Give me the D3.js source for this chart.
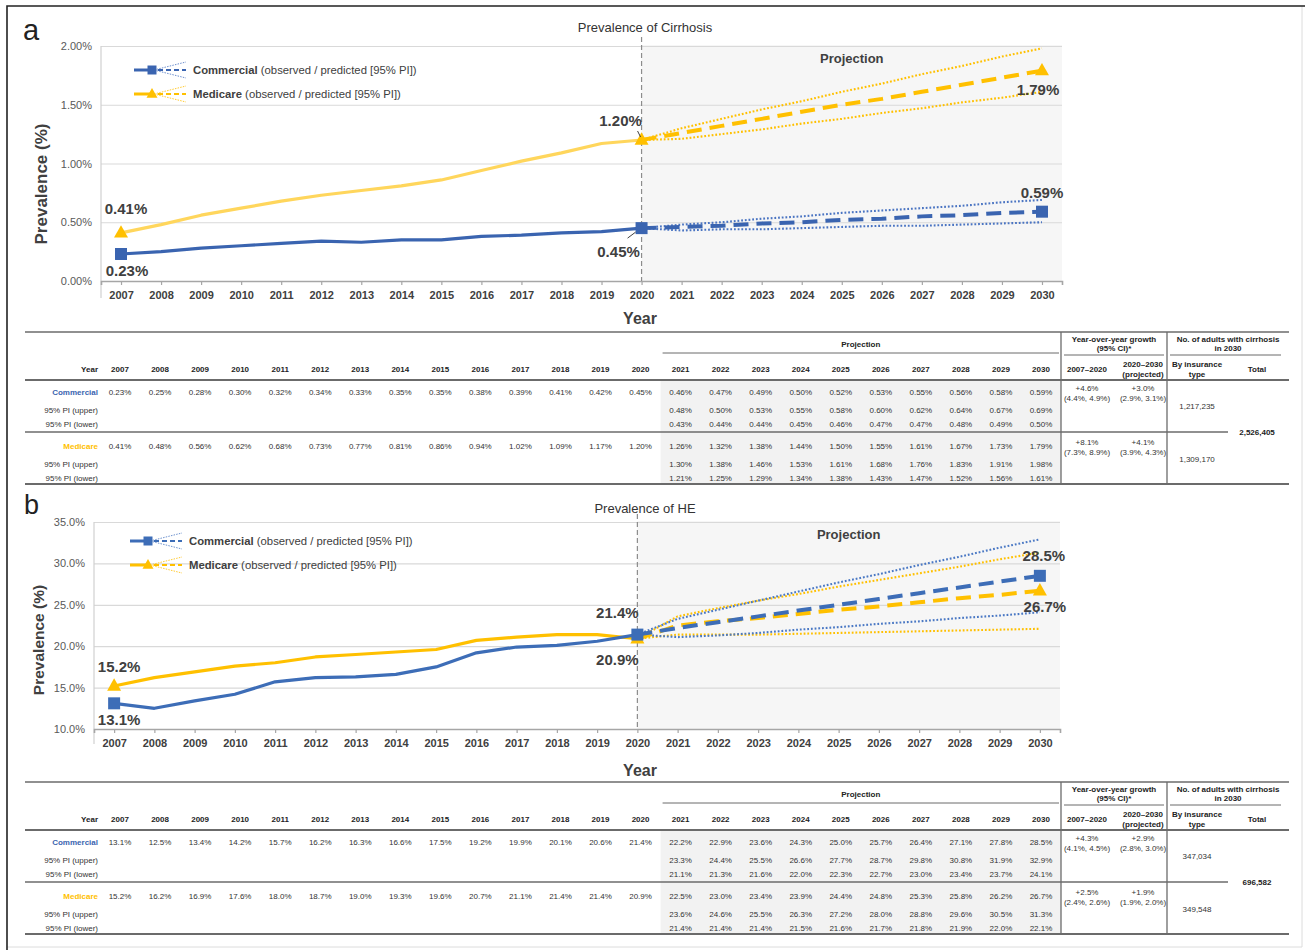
<!DOCTYPE html>
<html>
<head>
<meta charset="utf-8">
<script src="https://cdn.jsdelivr.net/npm/d3@7"></script>
<style>
  body { margin: 0; background: #fff; }
  svg { display: block; }
  text { font-family: "Liberation Sans", Arial, sans-serif; }
</style>
</head>
<body>
<svg id="fig" width="1305" height="950"></svg>
<script>
// ---- categories ----
const years = [2007, 2008, 2009, 2010, 2011, 2012, 2013, 2014, 2015, 2016, 2017, 2018,
               2019, 2020, 2021, 2022, 2023, 2024, 2025, 2026, 2027, 2028, 2029, 2030];
const observedYears = years.slice(0, 14);   // 2007–2020
const projectedYears = years.slice(14);     // 2021–2030

// ---- cirrhosis prevalence (%) ----
const cirrCommObs   = [0.23, 0.25, 0.28, 0.30, 0.32, 0.34, 0.33, 0.35, 0.35, 0.38, 0.39, 0.41, 0.42, 0.45];
const cirrCommProj  = [0.46, 0.47, 0.49, 0.50, 0.52, 0.53, 0.55, 0.56, 0.58, 0.59];
const cirrCommUpper = [0.48, 0.50, 0.53, 0.55, 0.58, 0.60, 0.62, 0.64, 0.67, 0.69];
const cirrCommLower = [0.43, 0.44, 0.44, 0.45, 0.46, 0.47, 0.47, 0.48, 0.49, 0.50];
const cirrMedObs    = [0.41, 0.48, 0.56, 0.62, 0.68, 0.73, 0.77, 0.81, 0.86, 0.94, 1.02, 1.09, 1.17, 1.20];
const cirrMedProj   = [1.26, 1.32, 1.38, 1.44, 1.50, 1.55, 1.61, 1.67, 1.73, 1.79];
const cirrMedUpper  = [1.30, 1.38, 1.46, 1.53, 1.61, 1.68, 1.76, 1.83, 1.91, 1.98];
const cirrMedLower  = [1.21, 1.25, 1.29, 1.34, 1.38, 1.43, 1.47, 1.52, 1.56, 1.61];
const cirrTicks     = [0, 0.5, 1.0, 1.5, 2.0];

// ---- hepatic encephalopathy prevalence (%) ----
const heCommObs   = [13.1, 12.5, 13.4, 14.2, 15.7, 16.2, 16.3, 16.6, 17.5, 19.2, 19.9, 20.1, 20.6, 21.4];
const heCommProj  = [22.2, 22.9, 23.6, 24.3, 25.0, 25.7, 26.4, 27.1, 27.8, 28.5];
const heCommUpper = [23.3, 24.4, 25.5, 26.6, 27.7, 28.7, 29.8, 30.8, 31.9, 32.9];
const heCommLower = [21.1, 21.3, 21.6, 22.0, 22.3, 22.7, 23.0, 23.4, 23.7, 24.1];
const heMedObs    = [15.2, 16.2, 16.9, 17.6, 18.0, 18.7, 19.0, 19.3, 19.6, 20.7, 21.1, 21.4, 21.4, 20.9];
const heMedProj   = [22.5, 23.0, 23.4, 23.9, 24.4, 24.8, 25.3, 25.8, 26.2, 26.7];
const heMedUpper  = [23.6, 24.6, 25.5, 26.3, 27.2, 28.0, 28.8, 29.6, 30.5, 31.3];
const heMedLower  = [21.4, 21.4, 21.4, 21.5, 21.6, 21.7, 21.8, 21.9, 22.0, 22.1];
const heTicks     = [10, 15, 20, 25, 30, 35];

// ---- growth and 2030 counts ----
const cirrCommGrowth = ["+4.6%", "(4.4%, 4.9%)", "+3.0%", "(2.9%, 3.1%)"];
const cirrMedGrowth  = ["+8.1%", "(7.3%, 8.9%)", "+4.1%", "(3.9%, 4.3%)"];
const cirrCounts     = ["1,217,235", "1,309,170", "2,526,405"];
const heCommGrowth   = ["+4.3%", "(4.1%, 4.5%)", "+2.9%", "(2.8%, 3.0%)"];
const heMedGrowth    = ["+2.5%", "(2.4%, 2.6%)", "+1.9%", "(1.9%, 2.0%)"];
const heCounts       = ["347,034", "349,548", "696,582"];

const BLUE = "#3a64b0", YELLOW = "#ffc000";
const svg = d3.select("#fig");
svg.append("rect").attr("width", 1305).attr("height", 950).attr("fill", "#fff");

// figure frame
svg.append("path").attr("d", "M1302,6 V947 H7").attr("fill", "none").attr("stroke", "#dcdcdc").attr("stroke-width", 1);
svg.append("path").attr("d", "M7,950 V6 H1305").attr("fill", "none").attr("stroke", "#222").attr("stroke-width", 1.6);

function txt(g, x, y, s, o = {}) {
  return g.append("text").attr("x", x).attr("y", y)
    .attr("text-anchor", o.anchor || "middle")
    .attr("dominant-baseline", "central")
    .attr("font-size", o.size || 8)
    .attr("font-weight", o.weight || "normal")
    .attr("fill", o.fill || "#333")
    .text(s);
}

function markerPath(shape, cx, cy, s) {
  if (shape === "square") return `M${cx - s / 2},${cy - s / 2}h${s}v${s}h${-s}Z`;
  const h = s * 0.88;
  return `M${cx},${cy - h * 0.62}L${cx + s / 2},${cy + h * 0.38}L${cx - s / 2},${cy + h * 0.38}Z`;
}

function drawPanel(p) {
  const g = svg.append("g");
  const x = d3.scalePoint().domain(years).range([p.x0, p.x1]).padding(0.5);
  const y = d3.scaleLinear().domain(p.yDomain).range([p.bottom, p.top]);
  const xs = x(2020);

  // projection period background
  g.append("rect").attr("x", xs).attr("y", p.top - 1).attr("width", p.x1 - xs)
    .attr("height", p.bottom - p.top + 1).attr("fill", "#f6f6f6");

  // y axis with gridlines
  const ya = g.append("g").attr("transform", `translate(${p.x0},0)`)
    .call(d3.axisLeft(y).tickValues(p.yTicks).tickFormat(p.tickFmt)
      .tickSize(-(p.x1 - p.x0)).tickPadding(9));
  ya.select(".domain").remove();
  ya.selectAll(".tick line").attr("stroke", "#d9d9d9").attr("stroke-width", 1.2);
  ya.selectAll(".tick text").attr("font-size", 11).attr("fill", "#595959")
    .style("font-family", '"Liberation Sans", Arial, sans-serif');
  g.append("line").attr("x1", p.x0).attr("x2", p.x0).attr("y1", p.top).attr("y2", p.axisFoot)
    .attr("stroke", "#d0d0d0").attr("stroke-width", 1.2);

  // x axis
  const xa = g.append("g").attr("transform", `translate(0,${p.bottom})`)
    .call(d3.axisBottom(x).tickSize(4).tickSizeOuter(4).tickPadding(6));
  xa.select(".domain").attr("stroke", "#a6a6a6").attr("stroke-width", 1.6);
  xa.selectAll(".tick line").attr("stroke", "#a6a6a6").attr("stroke-width", 1.2);
  xa.selectAll(".tick text").attr("font-size", 11).attr("font-weight", "bold").attr("fill", "#404040")
    .style("font-family", '"Liberation Sans", Arial, sans-serif');

  // observed / projected divider
  g.append("line").attr("x1", xs).attr("x2", xs).attr("y1", p.top - p.divExt).attr("y2", p.bottom)
    .attr("stroke", "#8c8c8c").attr("stroke-width", 1.2).attr("stroke-dasharray", "5,3");

  txt(g, (xs + p.x1) / 2, p.top + 12, "Projection", { size: 13, weight: "bold", fill: "#404040" });
  txt(g, 645, p.titleY, p.title, { size: 13, fill: "#333" });
  g.append("text").attr("x", p.letterX).attr("y", p.letterY).attr("font-size", p.letterSize)
    .attr("fill", "#222").text(p.letter);

  // axis titles
  g.append("text").attr("transform", `translate(${p.yTitleX},${p.yTitleY}) rotate(-90)`)
    .attr("text-anchor", "middle").attr("dominant-baseline", "central")
    .attr("font-size", p.yTitleSize).attr("font-weight", "bold").attr("fill", "#404040").text("Prevalence (%)");
  txt(g, 640, p.xTitleY, "Year", { size: 16, weight: "bold", fill: "#404040" });

  const line = d3.line().x(d => x(d.year)).y(d => y(d.v));
  const built = p.series.map(s => {
    const obs = observedYears.map((yr, i) => ({ year: yr, v: s.obs[i] }));
    const anchor = obs[obs.length - 1];
    const ext = arr => [anchor, ...projectedYears.map((yr, i) => ({ year: yr, v: arr[i] }))];
    return { s, obs, proj: ext(s.proj), up: ext(s.upper), lo: ext(s.lower) };
  });

  built.forEach(b => {
    [b.up, b.lo].forEach(d => g.append("path").attr("d", line(d)).attr("fill", "none")
      .attr("stroke", b.s.piColor).attr("stroke-width", 2.1).attr("stroke-dasharray", "1.8,1.9"));
  });
  built.forEach(b => {
    g.append("path").attr("d", line(b.proj)).attr("fill", "none")
      .attr("stroke", b.s.color).attr("stroke-width", 4).attr("stroke-dasharray", "15,8");
  });
  built.forEach(b => {
    g.append("path").attr("d", line(b.obs)).attr("fill", "none")
      .attr("stroke", b.s.obsColor).attr("stroke-width", 3.2).attr("stroke-linejoin", "round");
  });
  built.forEach(b => {
    const pts = [b.obs[0], b.obs[b.obs.length - 1], b.proj[b.proj.length - 1]];
    pts.forEach(d => g.append("path").attr("d", markerPath(b.s.shape, x(d.year), y(d.v), b.s.shape === "square" ? 12 : 14))
      .attr("fill", b.s.color));
  });

  // value callouts
  p.callouts.forEach(c => {
    const b = built[c.series];
    const all = b.obs.concat(b.proj.slice(1));
    const d = all.find(e => e.year === c.year);
    const px = x(d.year), py = y(d.v);
    txt(g, px + c.dx, py + c.dy, p.valFmt(d.v), { size: 15, weight: "bold", fill: "#404040" });
    if (c.leader) {
      g.append("line").attr("x1", px + c.leader[0]).attr("y1", py + c.leader[1])
        .attr("x2", px + c.leader[2]).attr("y2", py + c.leader[3])
        .attr("stroke", "#404040").attr("stroke-width", 1);
    }
  });

  // legend (Commercial first, Medicare second)
  p.legendOrder.forEach((si, i) => {
    const s = p.series[si];
    const ly = p.legendY[i], lx = p.legendX;
    g.append("line").attr("x1", lx).attr("x2", lx + 17).attr("y1", ly).attr("y2", ly)
      .attr("stroke", s.color).attr("stroke-width", 3);
    g.append("line").attr("x1", lx + 24).attr("x2", lx + 52).attr("y1", ly).attr("y2", ly)
      .attr("stroke", s.color).attr("stroke-width", 2).attr("stroke-dasharray", "5,3");
    [-8, 8].forEach(o => g.append("line").attr("x1", lx + 20).attr("x2", lx + 52)
      .attr("y1", ly).attr("y2", ly + o).attr("stroke", s.piColor).attr("stroke-width", 1)
      .attr("stroke-dasharray", "1.5,1.2").attr("opacity", 0.8));
    g.append("path").attr("d", markerPath(s.shape, lx + 18, ly, s.shape === "square" ? 9 : 11)).attr("fill", s.color);
    const t = g.append("text").attr("x", lx + 59).attr("y", ly).attr("dominant-baseline", "central")
      .attr("font-size", 11.3).attr("fill", "#404040");
    t.append("tspan").attr("font-weight", "bold").text(s.name);
    t.append("tspan").text(" (observed / predicted [95% PI])");
  });
}

function drawTable(t) {
  const g = svg.append("g");
  const x = d3.scalePoint().domain(years).range([100, 1061]).padding(0.5);
  const T = t.top;
  const R = { head: T + 37, thick: T + 48, r1: T + 60, up1: T + 78, lo1: T + 92, mid: T + 100,
              r2: T + 114, up2: T + 132, lo2: T + 146, bot: T + 152 };
  const L = 25, VX1 = 1061, VX2 = 1167, RX = 1289;
  const projLeft = x(2021) - x.step() / 2;
  const stroke = "#6b6b6b";

  g.append("rect").attr("x", projLeft).attr("y", R.thick).attr("width", VX1 - projLeft)
    .attr("height", R.bot - R.thick).attr("fill", "#f2f2f2");

  const hl = (x1, x2, y, w) => g.append("line").attr("x1", x1).attr("x2", x2).attr("y1", y).attr("y2", y)
    .attr("stroke", stroke).attr("stroke-width", w);
  hl(L, RX, T, 1.6); hl(L, RX, R.thick, 2); hl(L, 1228, R.mid, 1.5); hl(L, RX, R.bot, 2);
  hl(projLeft + 2, VX1 - 2, T + 21, 1); hl(VX1 + 3, VX2 - 3, T + 23, 1); hl(VX2 + 3, RX - 8, T + 23, 1);
  [VX1, VX2].forEach(vx => g.append("line").attr("x1", vx).attr("x2", vx).attr("y1", T).attr("y2", R.bot)
    .attr("stroke", stroke).attr("stroke-width", 1.3));

  const H = { weight: "bold", fill: "#222" };
  txt(g, (projLeft + VX1) / 2, T + 12, "Projection", H);
  txt(g, 1114, T + 7, "Year-over-year growth", H);
  txt(g, 1114, T + 16, "(95% CI)*", H);
  txt(g, 1228, T + 7, "No. of adults with cirrhosis", H);
  txt(g, 1228, T + 16, "in 2030", H);
  txt(g, 98, R.head, "Year", { ...H, anchor: "end" });
  years.forEach(yr => txt(g, x(yr), R.head, String(yr), H));
  txt(g, 1087, R.head, "2007\u20132020", H);
  txt(g, 1143, R.head - 5, "2020\u20132030", H);
  txt(g, 1143, R.head + 5, "(projected)", H);
  txt(g, 1197, R.head - 5, "By insurance", H);
  txt(g, 1197, R.head + 5, "type", H);
  txt(g, 1257, R.head, "Total", H);

  const groups = [
    { name: "Commercial", color: BLUE, obs: t.commObs, proj: t.commProj, up: t.commUpper, lo: t.commLower,
      growth: t.commGrowth, count: t.counts[0], r: R.r1, u: R.up1, l: R.lo1, cy: R.r1 + 14 },
    { name: "Medicare", color: YELLOW, obs: t.medObs, proj: t.medProj, up: t.medUpper, lo: t.medLower,
      growth: t.medGrowth, count: t.counts[1], r: R.r2, u: R.up2, l: R.lo2, cy: R.r2 + 13 }
  ];
  groups.forEach(gr => {
    txt(g, 98, gr.r, gr.name, { anchor: "end", weight: "bold", fill: gr.color });
    txt(g, 98, gr.u, "95% PI (upper)", { anchor: "end" });
    txt(g, 98, gr.l, "95% PI (lower)", { anchor: "end" });
    observedYears.forEach((yr, i) => txt(g, x(yr), gr.r, t.fmt(gr.obs[i])));
    projectedYears.forEach((yr, i) => {
      txt(g, x(yr), gr.r, t.fmt(gr.proj[i]));
      txt(g, x(yr), gr.u, t.fmt(gr.up[i]));
      txt(g, x(yr), gr.l, t.fmt(gr.lo[i]));
    });
    txt(g, 1087, gr.r - 4, gr.growth[0]);
    txt(g, 1087, gr.r + 6, gr.growth[1]);
    txt(g, 1143, gr.r - 4, gr.growth[2]);
    txt(g, 1143, gr.r + 6, gr.growth[3]);
    txt(g, 1197, gr.cy, gr.count);
  });
  txt(g, 1257, R.mid, t.counts[2], { weight: "bold", fill: "#222" });
}

const fmt2 = v => v.toFixed(2) + "%";
const fmt1 = v => v.toFixed(1) + "%";

drawPanel({
  letter: "a", letterX: 23, letterY: 40, letterSize: 29,
  title: "Prevalence of Cirrhosis", titleY: 27,
  x0: 101, x1: 1062, top: 46, bottom: 281, axisFoot: 298, divExt: 9,
  yDomain: [0, 2], yTicks: cirrTicks, tickFmt: fmt2, valFmt: fmt2,
  yTitleX: 41, yTitleY: 184, yTitleSize: 17, xTitleY: 318,
  legendX: 134, legendY: [70, 94], legendOrder: [0, 1],
  series: [
    { name: "Commercial", shape: "square", color: BLUE, obsColor: BLUE, piColor: "#4a74c2",
      obs: cirrCommObs, proj: cirrCommProj, upper: cirrCommUpper, lower: cirrCommLower },
    { name: "Medicare", shape: "triangle", color: YELLOW, obsColor: "#ffd65c", piColor: YELLOW,
      obs: cirrMedObs, proj: cirrMedProj, upper: cirrMedUpper, lower: cirrMedLower }
  ],
  callouts: [
    { series: 1, year: 2007, dx: 5, dy: -24 },
    { series: 0, year: 2007, dx: 6, dy: 17 },
    { series: 1, year: 2020, dx: -21, dy: -20, leader: [-4, -9, -1, -3] },
    { series: 0, year: 2020, dx: -23, dy: 23, leader: [-14, 10, -6, 4] },
    { series: 1, year: 2030, dx: -4, dy: 19 },
    { series: 0, year: 2030, dx: 0, dy: -19 }
  ]
});

drawTable({
  top: 332, fmt: fmt2,
  commObs: cirrCommObs, commProj: cirrCommProj, commUpper: cirrCommUpper, commLower: cirrCommLower,
  medObs: cirrMedObs, medProj: cirrMedProj, medUpper: cirrMedUpper, medLower: cirrMedLower,
  commGrowth: cirrCommGrowth, medGrowth: cirrMedGrowth, counts: cirrCounts
});

// Medicare is drawn first here so the Commercial line sits on top where they cross
drawPanel({
  letter: "b", letterX: 24, letterY: 514, letterSize: 27,
  title: "Prevalence of HE", titleY: 508,
  x0: 94, x1: 1060, top: 522, bottom: 729, axisFoot: 744, divExt: 8,
  yDomain: [10, 35], yTicks: heTicks, tickFmt: fmt1, valFmt: fmt1,
  yTitleX: 38, yTitleY: 640, yTitleSize: 15.5, xTitleY: 770,
  legendX: 130, legendY: [541, 565], legendOrder: [1, 0],
  series: [
    { name: "Medicare", shape: "triangle", color: YELLOW, obsColor: YELLOW, piColor: YELLOW,
      obs: heMedObs, proj: heMedProj, upper: heMedUpper, lower: heMedLower },
    { name: "Commercial", shape: "square", color: "#3d6db7", obsColor: "#3d6db7", piColor: "#4a78c4",
      obs: heCommObs, proj: heCommProj, upper: heCommUpper, lower: heCommLower }
  ],
  callouts: [
    { series: 0, year: 2007, dx: 5, dy: -19 },
    { series: 1, year: 2007, dx: 5, dy: 16 },
    { series: 1, year: 2020, dx: -20, dy: -22 },
    { series: 0, year: 2020, dx: -20, dy: 21 },
    { series: 1, year: 2030, dx: 4, dy: -20 },
    { series: 0, year: 2030, dx: 5, dy: 16 }
  ]
});

drawTable({
  top: 782, fmt: fmt1,
  commObs: heCommObs, commProj: heCommProj, commUpper: heCommUpper, commLower: heCommLower,
  medObs: heMedObs, medProj: heMedProj, medUpper: heMedUpper, medLower: heMedLower,
  commGrowth: heCommGrowth, medGrowth: heMedGrowth, counts: heCounts
});
</script>
</body>
</html>
